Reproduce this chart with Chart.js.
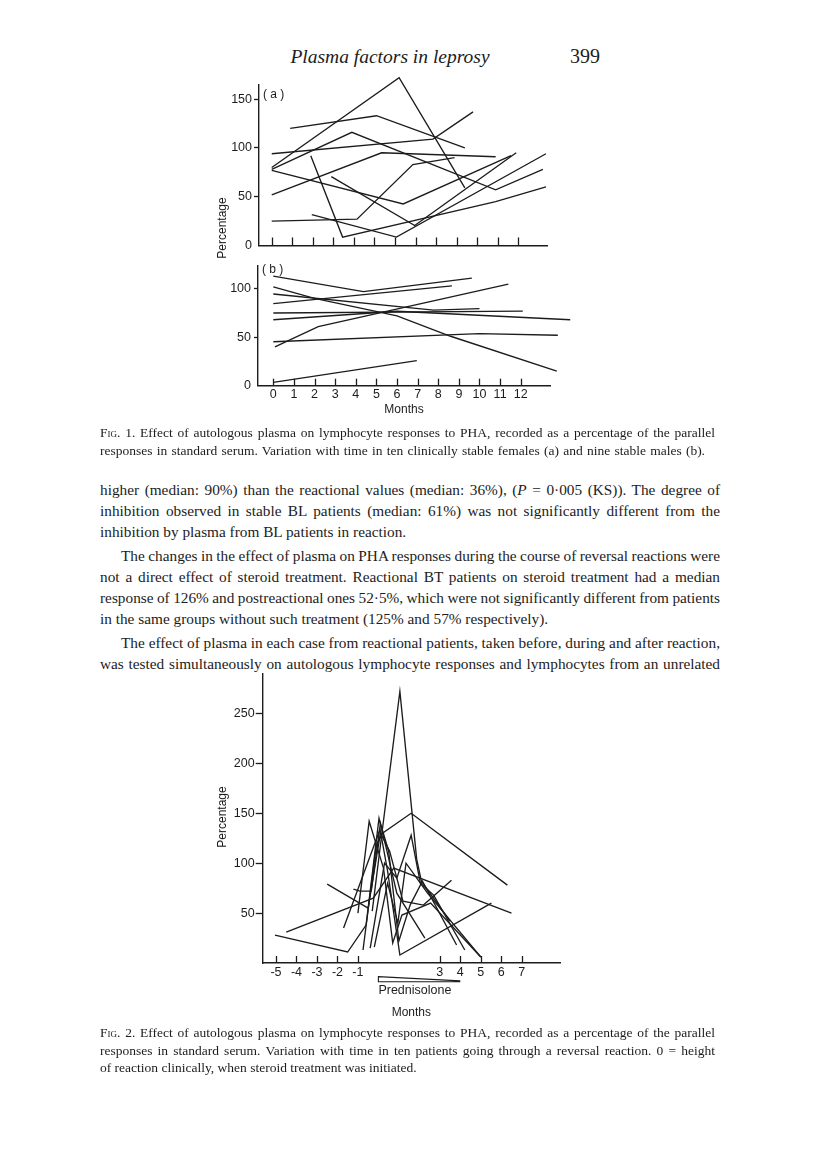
<!DOCTYPE html>
<html>
<head>
<meta charset="utf-8">
<script src="https://cdn.jsdelivr.net/npm/chart.js@4.4.1/dist/chart.umd.min.js"></script>
<style>
  body { margin:0; width:816px; height:1151px; background:#fff; position:relative; overflow:hidden;
         font-family:"Liberation Serif","Times New Roman",serif; color:#1c1c1c; }
  .abs { position:absolute; }
  canvas { position:absolute; }
  .ylab { position:absolute; width:80px; height:14px; line-height:14px; text-align:center;
          font-family:"Liberation Sans",Arial,sans-serif; font-size:12px; transform:rotate(-90deg); }
  .body { left:100px; top:479px; width:620px; font-size:15.3px; line-height:21px; }
  .body .ln { height:21px; white-space:nowrap; }
  .body .gap { margin-top:3px; }
  .ind { padding-left:21px; }
  .cap { left:100px; width:620px; font-size:13.5px; line-height:17.5px; }
  .cap div { white-space:nowrap; }
  .fit { white-space:nowrap; display:inline-block; }
  .sc { font-variant:small-caps; }
</style>
</head>
<body>

<div class="abs" style="left:270px;top:45px;width:240px;text-align:center;font-style:italic;font-size:19.5px;line-height:24px">Plasma factors in leprosy</div>
<div class="abs" style="left:570px;top:44px;font-size:20px;line-height:24px">399</div>

<canvas id="fig1a" width="380" height="180" style="left:200px;top:75px"></canvas>
<canvas id="fig1b" width="380" height="170" style="left:200px;top:255px"></canvas>
<div class="ylab" style="left:182px;top:221px">Percentage</div>

<div class="abs cap" style="top:424px">
  <div><span class="fit" data-w="615"><span class="sc">Fig</span>. 1. Effect of autologous plasma on lymphocyte responses to PHA, recorded as a percentage of the parallel</span></div>
  <div><span class="fit" data-w="605">responses in standard serum. Variation with time in ten clinically stable females (a) and nine stable males (b).</span></div>
</div>

<div class="abs body">
  <div class="ln"><span class="fit" data-w="620">higher (median: 90%) than the reactional values (median: 36%), (<i>P</i> = 0·005 (KS)). The degree of</span></div>
  <div class="ln"><span class="fit" data-w="620">inhibition observed in stable BL patients (median: 61%) was not significantly different from the</span></div>
  <div class="ln">inhibition by plasma from BL patients in reaction.</div>
  <div class="ln ind gap"><span class="fit" data-w="599">The changes in the effect of plasma on PHA responses during the course of reversal reactions were</span></div>
  <div class="ln"><span class="fit" data-w="620">not a direct effect of steroid treatment. Reactional BT patients on steroid treatment had a median</span></div>
  <div class="ln"><span class="fit" data-w="620">response of 126% and postreactional ones 52·5%, which were not significantly different from patients</span></div>
  <div class="ln">in the same groups without such treatment (125% and 57% respectively).</div>
  <div class="ln ind gap"><span class="fit" data-w="599">The effect of plasma in each case from reactional patients, taken before, during and after reaction,</span></div>
  <div class="ln"><span class="fit" data-w="620">was tested simultaneously on autologous lymphocyte responses and lymphocytes from an unrelated</span></div>
</div>

<canvas id="fig2" width="370" height="360" style="left:200px;top:665px"></canvas>
<div class="ylab" style="left:182px;top:810px">Percentage</div>

<div class="abs cap" style="top:1024px">
  <div><span class="fit" data-w="615"><span class="sc">Fig</span>. 2. Effect of autologous plasma on lymphocyte responses to PHA, recorded as a percentage of the parallel</span></div>
  <div><span class="fit" data-w="615">responses in standard serum. Variation with time in ten patients going through a reversal reaction. 0 = height</span></div>
  <div>of reaction clinically, when steroid treatment was initiated.</div>
</div>

<script>
const INK = '#1c1c1c';

// Fig. 1(a): ten clinically stable females, [month, % of response in standard serum]
const femaleSeries = [
  [[0, 80], [6.2, 172], [9.4, 59]],
  [[0.9, 120], [5.1, 133], [9.4, 100]],
  [[0, 94], [7.85, 109], [9.8, 137]],
  [[0, 78], [3.9, 116], [10.9, 57], [13.2, 78]],
  [[0, 52], [5.35, 95], [10.9, 91]],
  [[0, 77], [6.4, 42.6], [11.65, 92]],
  [[1.9, 92], [3.45, 8.6], [10.9, 45], [13.35, 60]],
  [[1.95, 31.7], [6.07, 8.6], [13.35, 94]],
  [[2.9, 70.6], [6.96, 20.5], [11.9, 95]],
  [[0, 25], [4.15, 27], [6.87, 83], [8.9, 90]]
];

// Fig. 1(b): nine stable males
const maleSeries = [
  [[0, 113], [4.37, 97], [9.63, 111]],
  [[0, 102], [2, 90], [6, 72], [8.6, 51], [13.75, 15], [13.9, 18.5]],
  [[0, 94.6], [7.77, 78], [10, 79.5]],
  [[0, 84.6], [8.66, 103]],
  [[0, 75], [12.1, 77]],
  [[0, 68], [6, 76.8], [14.4, 68]],
  [[0.08, 40], [2.18, 61], [11.4, 104.7]],
  [[0, 45.3], [10, 53.7], [13.8, 52]],
  [[0, 3.4], [6.96, 25.8]]
];

// Fig. 2: ten patients going through a reversal reaction (0 = height of reaction)
const reactionSeries = [
  [[-0.3, 52], [0.16, 128], [1.05, 272], [1.87, 104], [2.1, 82], [3.5, 42]],
  [[-0.75, 13], [-0.1, 118], [0.2, 130], [1.6, 150], [6.3, 78]],
  [[-5.05, 28], [-1.5, 11], [-0.6, 38], [0.03, 145], [0.35, 118], [0.9, 70], [2.27, 25]],
  [[-4.5, 31], [-0.25, 65], [0.75, 95], [6.5, 50]],
  [[-2.5, 79], [-0.5, 55], [0.1, 130], [0.55, 112], [1.2, 62], [2.2, 58], [3.57, 83]],
  [[-1.22, 74], [-0.9, 72], [-0.35, 72], [0.1, 140], [0.5, 112], [1.0, 22], [1.55, 58], [2.15, 82], [3.82, 18]],
  [[-1.7, 35], [0.08, 134], [0.45, 92], [1.05, 8], [5.52, 60]],
  [[-0.4, 15], [0.3, 100], [0.9, 85], [1.6, 128], [2.05, 80], [2.7, 68], [4.22, 13]],
  [[-0.2, 16], [0.45, 80], [0.95, 40], [1.35, 100], [2.4, 70], [5.0, 6]],
  [[-1.0, 50], [-0.45, 142], [0.25, 95], [0.7, 20], [1.15, 48], [2.55, 60], [5.0, 6]]
];

const fig1Months = [0, 1, 2, 3, 4, 5, 6, 7, 8, 9, 10, 11, 12];
const fig1aPercentTicks = [0, 50, 100, 150];
const fig1bPercentTicks = [0, 50, 100];
const fig2Months = [-5, -4, -3, -2, -1, 3, 4, 5, 6, 7];
const fig2PercentTicks = [50, 100, 150, 200, 250];

Chart.defaults.font.family = '"Liberation Sans", Arial, sans-serif';
Chart.defaults.font.size = 12.5;
Chart.defaults.color = INK;

// upward month ticks, panel letter and the prednisolone wedge
const figureMarks = {
  id: 'figureMarks',
  afterDraw(chart, args, opts) {
    const { ctx, chartArea: a, scales: { x, y } } = chart;
    ctx.save();
    ctx.strokeStyle = INK;
    ctx.fillStyle = INK;
    ctx.lineWidth = 1.3;
    opts.ticks.forEach(v => {
      const px = Math.round(x.getPixelForValue(v)) + 0.5;
      ctx.beginPath();
      ctx.moveTo(px, a.bottom);
      ctx.lineTo(px, a.bottom - opts.tickLen);
      ctx.stroke();
    });
    ctx.textBaseline = 'middle';
    if (opts.panel) {
      ctx.font = '12px "Liberation Sans", Arial, sans-serif';
      ctx.fillText(opts.panel, a.left + 4, y.getPixelForValue(opts.panelAt));
    }
    if (opts.wedge) {
      const x0 = x.getPixelForValue(opts.wedge[0]);
      const x1 = x.getPixelForValue(opts.wedge[1]);
      const top = a.bottom + 13.7, bot = a.bottom + 18.7;
      ctx.lineWidth = 1.1;
      ctx.beginPath();
      ctx.moveTo(x1, bot);
      ctx.lineTo(x0, bot);
      ctx.lineTo(x0, top);
      ctx.lineTo(x1, bot - 0.8);
      ctx.stroke();
      ctx.font = '12.5px "Liberation Sans", Arial, sans-serif';
      ctx.fillText(opts.wedgeLabel, x0, a.bottom + 28);
    }
    ctx.restore();
  }
};

function makeChart(id, series, o) {
  const datasets = series.map(s => ({
    data: s.map(([x, y]) => ({ x, y })),
    showLine: true,
    borderColor: INK,
    borderWidth: 1.35,
    pointRadius: 0,
    clip: false
  }));
  return new Chart(document.getElementById(id), {
    type: 'scatter',
    data: { datasets },
    options: {
      responsive: false,
      animation: false,
      devicePixelRatio: 1,
      layout: { padding: o.padding },
      plugins: {
        legend: { display: false },
        tooltip: { enabled: false },
        figureMarks: o.marks
      },
      scales: {
        x: {
          type: 'linear', min: o.xMin, max: o.xMax,
          afterFit: s => { s.height = o.xHeight; },
          afterBuildTicks: s => { s.ticks = o.xTicks.map(v => ({ value: v })); },
          grid: { display: false, drawTicks: false },
          border: { display: true, color: INK, width: 1.4 },
          ticks: { display: o.showXLabels, autoSkip: false, maxRotation: 0, padding: o.xLabelPad,
                   callback: v => String(v) },
          title: o.xTitle
            ? { display: true, text: o.xTitle, padding: 0, font: { size: 12 } }
            : { display: false }
        },
        y: {
          type: 'linear', min: o.yMin, max: o.yMax,
          afterFit: s => { s.width = o.yWidth; },
          afterBuildTicks: s => { s.ticks = o.yTicks.map(v => ({ value: v })); },
          grid: {
            display: true, drawOnChartArea: false, drawTicks: true,
            tickLength: o.yTickLen, tickWidth: 1.3,
            tickColor: c => (c.tick && c.tick.value === 0) ? 'rgba(0,0,0,0)' : INK
          },
          border: { display: true, color: INK, width: 1.4 },
          ticks: { autoSkip: false, padding: o.yLabelPad, callback: v => String(v) }
        }
      }
    },
    plugins: [figureMarks]
  });
}

makeChart('fig1a', femaleSeries, {
  padding: { left: 0, top: 6.4, right: 33, bottom: 0 },
  xMin: -0.62, xMax: 13.4, yMin: 0, yMax: 165,
  yWidth: 59, xHeight: 7, yTickLen: 5, yLabelPad: 2,
  xTicks: fig1Months, showXLabels: false, xLabelPad: 0,
  yTicks: fig1aPercentTicks,
  marks: { ticks: fig1Months, tickLen: 8, panel: '( a )', panelAt: 155 }
});

makeChart('fig1b', maleSeries, {
  padding: { left: 0, top: 7.4, right: 30, bottom: 7.8 },
  xMin: -0.742, xMax: 13.42, yMin: 0, yMax: 124,
  yWidth: 58, xHeight: 31.5, yTickLen: 4, yLabelPad: 3,
  xTicks: fig1Months, showXLabels: true, xLabelPad: 1, xTitle: 'Months',
  yTicks: fig1bPercentTicks,
  marks: { ticks: fig1Months, tickLen: 7, panel: '( b )', panelAt: 120 }
});

makeChart('fig2', reactionSeries, {
  padding: { left: 0, top: 8.3, right: 10, bottom: 4.8 },
  xMin: -5.65, xMax: 8.87, yMin: 0, yMax: 290,
  yWidth: 62.7, xHeight: 57.2, yTickLen: 7, yLabelPad: 1,
  xTicks: fig2Months, showXLabels: true, xLabelPad: 2.5, xTitle: 'Months',
  yTicks: fig2PercentTicks,
  marks: { ticks: fig2Months, tickLen: 7, wedge: [0, 4], wedgeLabel: 'Prednisolone' }
});

// stretch each justified line to its measured width
document.querySelectorAll('.fit').forEach(el => {
  const target = +el.dataset.w;
  const w = el.getBoundingClientRect().width;
  const spaces = (el.textContent.match(/ /g) || []).length;
  if (spaces) el.style.wordSpacing = ((target - w) / spaces) + 'px';
});
</script>
</body>
</html>
